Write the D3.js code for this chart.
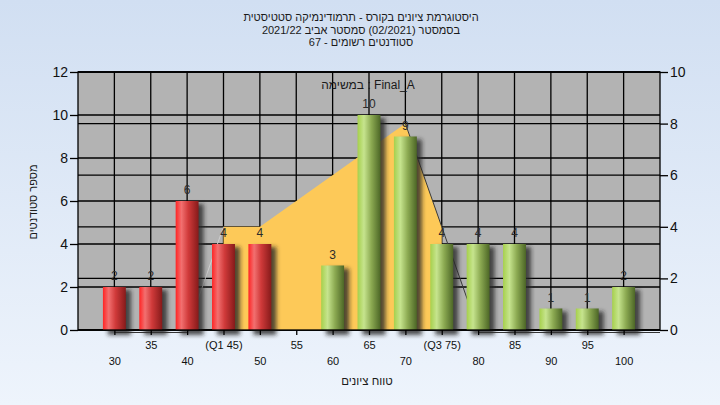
<!DOCTYPE html>
<html><head><meta charset="utf-8">
<script src="https://cdn.jsdelivr.net/npm/d3@7"></script>
<style>
html,body{margin:0;padding:0;}
body{width:720px;height:405px;overflow:hidden;}
svg{display:block;font-family:"Liberation Sans","DejaVu Sans",Arial,sans-serif;}
</style></head>
<body>
<script>
// ---- data ----
const categories = [30,35,40,45,50,55,60,65,70,75,80,85,90,95,100];
const counts = [2,2,6,4,4,0,3,10,9,4,4,4,1,1,2];
const tickLabels = ["30","35","40","(Q1 45)","50","55","60","65","70","(Q3 75)","80","85","90","95","100"];
const leftTicks = [0,2,4,6,8,10,12];
const rightTicks = [0,2,4,6,8,10];
const areaX = [45,50,70,75];
const areaY = [4,4,8,4];
const lineLeftX = [40,45];
const lineLeftY = [0,4];
const lineRightX = [70,75,80];
const lineRightY = [8,4,0];
const whiskerLow = [30,40];
const whiskerHigh = [80,100];
const titleLines = ["היסטוגרמת ציונים בקורס - תרמודינמיקה סטטיסטית","בסמסטר  (02/2021)  סמסטר אביב 2021/22","סטודנטים רשומים - 67"];
const legendText = "במשימה : Final_A";
const xTitle = "טווח ציונים";
const yTitle = "מספר סטודנטים";

const W=720,H=405;
const L=78,R=660,T=72,B=330;
const svg=d3.select("body").append("svg").attr("width",W).attr("height",H);
const defs=svg.append("defs");
const bg=defs.append("linearGradient").attr("id","bg").attr("x1",0).attr("y1",0).attr("x2",0).attr("y2",1);
bg.append("stop").attr("offset","0%").attr("stop-color","#d1dff2");
bg.append("stop").attr("offset","100%").attr("stop-color","#eef4fc");
const rg=defs.append("linearGradient").attr("id","red").attr("x1",0).attr("x2",1).attr("y1",0).attr("y2",0);
[["0%","#ff2424"],["25%","#f27070"],["55%","#d03a3a"],["100%","#861a1a"]].forEach(s=>rg.append("stop").attr("offset",s[0]).attr("stop-color",s[1]));
const gg=defs.append("linearGradient").attr("id","green").attr("x1",0).attr("x2",1).attr("y1",0).attr("y2",0);
[["0%","#a6d04c"],["28%","#c6e48e"],["60%","#8caa52"],["100%","#4c6626"]].forEach(s=>gg.append("stop").attr("offset",s[0]).attr("stop-color",s[1]));
const f=defs.append("filter").attr("id","blur").attr("x","-50%").attr("y","-50%").attr("width","200%").attr("height","200%");
f.append("feGaussianBlur").attr("stdDeviation",2);

svg.append("rect").attr("width",W).attr("height",H).attr("fill","url(#bg)");

const x=d3.scalePoint().domain(categories).range([L,R]).padding(1);
const yL=d3.scaleLinear().domain([0,12]).range([B,T]);
const yR=d3.scaleLinear().domain([0,10]).range([B,T]);

// plot background
svg.append("rect").attr("x",L).attr("y",T).attr("width",R-L).attr("height",B-T).attr("fill","#b3b3b3");

// grid
const grid=svg.append("g").attr("stroke","#000").attr("stroke-width",1.3);
leftTicks.forEach(v=>grid.append("line").attr("x1",L).attr("x2",R).attr("y1",yL(v)).attr("y2",yL(v)));
rightTicks.forEach(v=>grid.append("line").attr("x1",L).attr("x2",R).attr("y1",yR(v)).attr("y2",yR(v)));
categories.forEach(c=>grid.append("line").attr("x1",x(c)).attr("x2",x(c)).attr("y1",T).attr("y2",B));

// orange area
const areaPts=areaX.map((v,i)=>[x(v),yR(areaY[i])]);
const poly=[[x(areaX[0]),yR(0)],...areaPts,[x(areaX[areaX.length-1]),yR(0)]];
svg.append("path").attr("d",d3.line()(poly)+"Z").attr("fill","#fdc958");
svg.append("path").attr("d",d3.line()(lineLeftX.map((v,i)=>[x(v),yR(lineLeftY[i])]))).attr("fill","none").attr("stroke","#cfcfcf").attr("stroke-width",1);
svg.append("path").attr("d",d3.line()(lineRightX.map((v,i)=>[x(v),yR(lineRightY[i])]))).attr("fill","none").attr("stroke","#3a3a3a").attr("stroke-width",1);

// bars
const bw=x.step()*0.63;
const bars=svg.append("g");
categories.forEach((c,i)=>{
  if(!counts[i]) return;
  const y0=yL(counts[i]);
  bars.append("rect").attr("x",x(c)-bw/2+5).attr("y",y0+3).attr("width",bw).attr("height",B-y0+2)
    .attr("fill","rgba(40,40,40,0.8)").attr("filter","url(#blur)");
});
categories.forEach((c,i)=>{
  if(!counts[i]) return;
  const y0=yL(counts[i]);
  bars.append("rect").attr("x",x(c)-bw/2).attr("y",y0).attr("width",bw).attr("height",B-y0)
    .attr("fill",c<55?"url(#red)":"url(#green)");
});

// frame
svg.append("rect").attr("x",L).attr("y",T).attr("width",R-L).attr("height",B-T).attr("fill","none").attr("stroke","#000").attr("stroke-width",1.3);

// whiskers under axis
svg.append("line").attr("x1",x(whiskerLow[0])).attr("x2",x(whiskerLow[1])).attr("y1",332.5).attr("y2",332.5).attr("stroke","#333").attr("stroke-width",1);
svg.append("line").attr("x1",x(whiskerHigh[0])).attr("x2",R).attr("y1",332.5).attr("y2",332.5).attr("stroke","#333").attr("stroke-width",1);

// value labels
categories.forEach((c,i)=>{
  if(!counts[i]) return;
  svg.append("text").attr("x",x(c)).attr("y",yL(counts[i])-7).attr("text-anchor","middle")
    .attr("font-size",12).attr("fill","#2b2b2b").text(counts[i]);
});

// axes
const axL=d3.axisLeft(yL).tickValues(leftTicks).tickSize(8).tickPadding(2);
const gL=svg.append("g").attr("transform",`translate(${L},0)`).call(axL);
const axR=d3.axisRight(yR).tickValues(rightTicks).tickSize(8).tickPadding(2);
const gR=svg.append("g").attr("transform",`translate(${R},0)`).call(axR);
const axB=d3.axisBottom(x).tickValues(categories).tickSize(5).tickFormat((d,i)=>tickLabels[i]);
const gB=svg.append("g").attr("transform",`translate(0,${B})`).call(axB);
[gL,gR,gB].forEach(g=>{g.select(".domain").remove();g.selectAll("line").attr("stroke","#000").attr("stroke-width",1.3);});
[gL,gR].forEach(g=>g.selectAll("text").attr("font-size",14).attr("fill","#111").attr("font-family","Liberation Sans, Arial, sans-serif"));
gB.selectAll("text").attr("font-size",11).attr("fill","#111").attr("font-family","Liberation Sans, Arial, sans-serif")
  .attr("y",(d,i)=>i%2===0?27:11).attr("dy","0.71em");

// titles
titleLines.forEach((t,i)=>svg.append("text").attr("x",361).attr("y",21+i*12.5).attr("text-anchor","middle")
  .attr("direction","rtl").attr("unicode-bidi","plaintext").attr("font-size",11).attr("fill","#1a1a1a").text(t));
svg.append("text").attr("x",368).attr("y",89).attr("text-anchor","middle").attr("font-size",12).attr("fill","#1a1a1a").text(legendText);
svg.append("text").attr("x",367).attr("y",385).attr("text-anchor","middle").attr("font-size",11.5).attr("fill","#1a1a1a").text(xTitle);
svg.append("text").attr("transform","translate(37,202) rotate(-90)").attr("text-anchor","middle").attr("font-size",11).attr("fill","#1a1a1a").text(yTitle);
</script>
</body></html>
